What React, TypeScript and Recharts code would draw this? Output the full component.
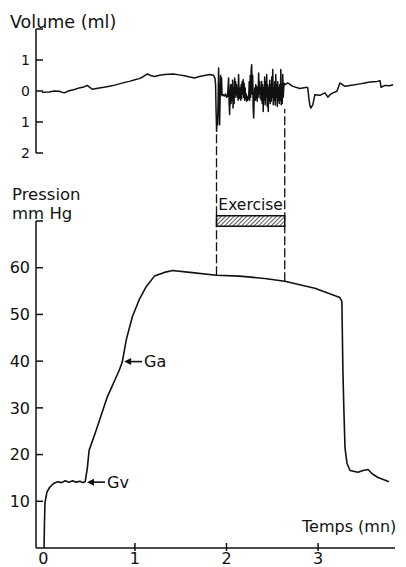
import {
  Line,
  LineChart,
  ReferenceArea,
  ReferenceDot,
  ReferenceLine,
  XAxis,
  YAxis,
} from 'recharts';

// [time (mn), volume (ml)]
const volumeTrace: [number, number][] = [
  [-0.014, -0.04], [0.062, -0.03], [0.12, 0.0], [0.172, -0.01], [0.227, -0.06], [0.282, 0.01],
  [0.34, 0.05], [0.391, 0.1], [0.44, 0.13], [0.479, 0.18], [0.533, 0.06], [0.61, 0.1],
  [0.66, 0.12], [0.72, 0.15], [0.78, 0.19], [0.829, 0.23], [0.88, 0.27], [0.939, 0.31],
  [1.0, 0.36], [1.048, 0.4], [1.09, 0.46], [1.136, 0.55], [1.18, 0.49], [1.213, 0.47],
  [1.27, 0.51], [1.322, 0.53], [1.421, 0.55], [1.48, 0.52], [1.541, 0.49], [1.6, 0.45],
  [1.651, 0.42], [1.705, 0.47], [1.76, 0.5], [1.815, 0.53], [1.859, 0.51], [1.875, 0.4],
  [1.881, 0.2],
  // exercise
  [1.886, -0.6], [1.892, -1.3], [1.898, -0.9], [1.903, -1.1], [1.909, -0.2], [1.914, 0.74],
  [1.92, -0.5], [1.925, -1.09], [1.93, -0.3], [1.936, 0.5], [1.941, -0.1], [1.946, 0.42],
  [1.952, -0.15], [1.957, -0.12], [1.963, -0.14], [1.968, -0.12], [1.979, -0.16], [1.99, -0.1],
  [2.001, -0.2], [2.012, -0.17], [2.017, 0.1], [2.023, 0.42], [2.028, -0.3], [2.034, -0.76],
  [2.039, -0.2], [2.045, 0.2], [2.05, -0.4], [2.056, 0.2], [2.061, -0.3], [2.067, 0.35],
  [2.072, -0.55], [2.078, 0.1], [2.083, -0.4], [2.089, 0.42], [2.094, -0.2], [2.1, 0.3],
  [2.105, -0.12], [2.111, 0.2], [2.116, -0.2], [2.122, 0.1], [2.127, -0.3], [2.132, 0.53],
  [2.138, -0.1], [2.143, -0.23], [2.149, 0.1], [2.154, -0.3], [2.16, 0.2], [2.165, -0.25],
  [2.171, 0.3], [2.176, -0.1], [2.182, 0.37], [2.187, -0.2], [2.193, 0.25], [2.198, -0.3],
  [2.204, 0.1], [2.209, -0.25], [2.215, -0.1], [2.22, -0.33], [2.226, -0.2], [2.231, -0.3],
  [2.237, -0.15], [2.242, -0.25], [2.248, 0.3], [2.253, -0.3], [2.259, 0.5], [2.264, -0.2],
  [2.27, 0.7], [2.275, 0.85], [2.281, -0.1], [2.286, 0.5], [2.292, -0.6], [2.297, -0.87],
  [2.303, -0.2], [2.308, 0.1], [2.314, -0.3], [2.319, 0.2], [2.324, -0.25], [2.329, 0.15],
  [2.335, -0.33], [2.34, 0.1], [2.346, -0.2], [2.351, 0.58], [2.357, -0.1], [2.362, 0.3],
  [2.368, -0.23], [2.373, 0.1], [2.379, -0.3], [2.384, 0.31], [2.39, -0.4], [2.395, 0.2],
  [2.401, -0.66], [2.406, 0.1], [2.412, -0.3], [2.417, 0.45], [2.423, -0.44], [2.428, 0.3],
  [2.434, -0.2], [2.439, 0.53], [2.445, -0.5], [2.45, 0.2], [2.456, -0.66], [2.461, 0.1],
  [2.467, -0.3], [2.472, 0.35], [2.478, -0.4], [2.483, 0.2], [2.489, -0.33], [2.494, 0.45],
  [2.5, -0.2], [2.505, 0.69], [2.511, -0.44], [2.516, 0.1], [2.522, -0.3], [2.527, 0.3],
  [2.533, -0.45], [2.538, 0.53], [2.544, -0.2], [2.549, 0.2], [2.555, -0.5], [2.56, 0.3],
  [2.566, -0.3], [2.571, 0.1], [2.577, -0.4], [2.582, 0.2], [2.588, -0.3], [2.593, 0.69],
  [2.598, -0.44], [2.604, 0.1], [2.609, -0.4], [2.614, 0.53], [2.62, -0.2], [2.625, 0.1],
  [2.63, 0.25], [2.636, 0.2],
  // recovery
  [2.669, 0.26], [2.724, 0.15], [2.801, 0.08], [2.877, 0.12], [2.888, 0.1], [2.899, -0.23],
  [2.91, -0.45], [2.921, -0.55], [2.943, -0.44], [2.965, -0.12], [3.02, -0.14], [3.075, -0.06],
  [3.107, -0.2], [3.13, -0.12], [3.162, -0.06], [3.206, -0.01], [3.238, 0.26], [3.293, 0.15],
  [3.348, 0.18], [3.4, 0.2], [3.458, 0.23], [3.51, 0.26], [3.567, 0.29], [3.644, 0.31],
  [3.677, 0.33], [3.688, 0.12], [3.731, 0.18], [3.78, 0.17], [3.819, 0.2],
];

// [time (mn), pressure (mmHg)]
const pressureTrace: [number, number][] = [
  [0.008, 0], [0.012, 5], [0.018, 9.7], [0.04, 12.0], [0.07, 13.0], [0.095, 13.5],
  [0.12, 13.9], [0.16, 14.2], [0.2, 14.0], [0.24, 14.4], [0.28, 14.1], [0.32, 14.4],
  [0.36, 14.1], [0.4, 14.3], [0.43, 14.0], [0.457, 14.2], [0.48, 17.0], [0.5, 20.9],
  [0.577, 25.2], [0.698, 32.3], [0.83, 38.1], [0.862, 39.8], [0.906, 44.6], [0.972, 49.5],
  [1.048, 53.2], [1.125, 56.0], [1.213, 58.2], [1.322, 59.0], [1.41, 59.4], [1.6, 59.0],
  [1.891, 58.4], [2.143, 58.2], [2.417, 57.7], [2.636, 57.1], [2.965, 55.6], [3.238, 53.6],
  [3.26, 52.8], [3.271, 38.1], [3.282, 29.5], [3.294, 21.5], [3.316, 18.1], [3.349, 16.6],
  [3.436, 16.2], [3.491, 16.6], [3.546, 16.8], [3.59, 15.9], [3.655, 15.1], [3.775, 14.2],
];

const volumeTicks = [2, 1, 0, -1, -2];
const pressureTicks = [10, 20, 30, 40, 50, 60, 70];
const timeTicks = [0, 1, 2, 3];

// exercise period (mn) and the bar drawn above the pressure trace (mmHg)
const exercise = { start: 1.891, end: 2.636 };
const exerciseBar = [68.9, 71.1];

// arrow notes on the pressure trace: [time, pressure, text]
const notes: [number, number, string][] = [
  [0.466, 14.1, 'Gv'],
  [0.871, 39.9, 'Ga'],
];

const INK = '#111';
const FONT = "'DejaVu Sans', sans-serif";
const TIME_DOMAIN: [number, number] = [-0.08, 3.84];

const volumeData = volumeTrace.map(([t, v]) => ({ t, v }));
const pressureData = pressureTrace.map(([t, p]) => ({ t, p }));
const pressureAt = (t: number) => pressureTrace.find((d) => d.at(0) === t)?.[1] ?? 0;

// ticks sit inside the axis; the top value only gets a cap, no label
function LeftTick(props: any) {
  const { x, y, payload, cap, fontSize } = props;
  const ax = x + 5;
  return (
    <g>
      <line x1={ax} x2={ax + 7} y1={y} y2={y} stroke={INK} strokeWidth={1.5} />
      {payload.value !== cap && (
        <text x={x - 1} y={y} dy="0.36em" textAnchor="end" fontSize={fontSize} fontFamily={FONT} fill={INK}>
          {Math.abs(payload.value)}
        </text>
      )}
    </g>
  );
}

function TimeTick(props: any) {
  const { x, y, payload } = props;
  const ay = y - 2;
  return (
    <g>
      {payload.value !== 0 && <line x1={x} x2={x} y1={ay - 5} y2={ay + 3} stroke={INK} strokeWidth={1.5} />}
      <text x={x} y={ay + 16} textAnchor="middle" fontSize={16} fontFamily={FONT} fill={INK}>
        {payload.value}
      </text>
    </g>
  );
}

function ArrowNote({ cx, cy, text }: { cx: number; cy: number; text: string }) {
  return (
    <g>
      <path d={`M${cx + 1},${cy} L${cx + 8},${cy - 3.5} L${cx + 8},${cy + 3.5} Z`} fill={INK} />
      <line x1={cx + 6} x2={cx + 19} y1={cy} y2={cy} stroke={INK} strokeWidth={1.6} />
      <text x={cx + 21} y={cy + 5.5} fontSize={16} fontFamily={FONT} fill={INK}>
        {text}
      </text>
    </g>
  );
}

export default function App() {
  return (
    <div style={{ position: 'absolute', left: 0, top: 0, width: 406, height: 567, background: '#fff' }}>
      <LineChart
        width={406}
        height={567}
        data={pressureData}
        margin={{ top: 221, right: 11, bottom: 0, left: 6 }}
      >
        <defs>
          <pattern id="hatch" width="3" height="3" patternUnits="userSpaceOnUse" patternTransform="rotate(45)">
            <line x1="0" y1="0" x2="0" y2="3" stroke={INK} strokeWidth={1.4} />
          </pattern>
        </defs>
        <text x={12} y={200} fontSize={16.5} fontFamily={FONT} fill={INK}>Pression</text>
        <text x={12} y={219} fontSize={16.5} fontFamily={FONT} fill={INK}>mm Hg</text>
        <text x={302} y={532} fontSize={16} fontFamily={FONT} fill={INK}>Temps (mn)</text>
        <XAxis
          type="number"
          dataKey="t"
          domain={TIME_DOMAIN}
          ticks={timeTicks}
          interval={0}
          height={19}
          tickSize={0}
          tickMargin={2}
          tickLine={false}
          axisLine={{ stroke: INK, strokeWidth: 1.5 }}
          tick={(p: any) => <TimeTick {...p} />}
        />
        <YAxis
          type="number"
          domain={[0, 70]}
          ticks={pressureTicks}
          interval={0}
          width={30}
          tickSize={0}
          tickMargin={5}
          tickLine={false}
          axisLine={{ stroke: INK, strokeWidth: 1.5 }}
          tick={(p: any) => <LeftTick {...p} cap={70} fontSize={16} />}
        />
        {/* dashed guides run from the pressure trace up into the volume panel */}
        <ReferenceLine
          segment={[{ x: exercise.start, y: pressureAt(exercise.start) }, { x: exercise.start, y: 89.5 }]}
          stroke={INK}
          strokeWidth={1.3}
          strokeDasharray="9 3"
          ifOverflow="visible"
        />
        <ReferenceLine
          segment={[{ x: exercise.end, y: pressureAt(exercise.end) }, { x: exercise.end, y: 94 }]}
          stroke={INK}
          strokeWidth={1.3}
          strokeDasharray="9 3"
          ifOverflow="visible"
        />
        <ReferenceArea
          x1={exercise.start}
          x2={exercise.end}
          y1={exerciseBar[0]}
          y2={exerciseBar[1]}
          fill="url(#hatch)"
          fillOpacity={1}
          stroke={INK}
          strokeWidth={1.5}
          ifOverflow="visible"
          label={{ value: 'Exercise', position: 'top', offset: 6, fill: INK, fontSize: 15.5, fontFamily: FONT }}
        />
        <Line
          type="linear"
          dataKey="p"
          stroke={INK}
          strokeWidth={1.6}
          strokeLinejoin="round"
          dot={false}
          isAnimationActive={false}
        />
        {notes.map(([t, p, text]) => (
          <ReferenceDot
            key={text}
            x={t}
            y={p}
            r={0}
            shape={(d: any) => <ArrowNote cx={d.cx} cy={d.cy} text={text} />}
          />
        ))}
      </LineChart>

      <div style={{ position: 'absolute', left: 0, top: 0 }}>
        <LineChart
          width={406}
          height={170}
          data={volumeData}
          margin={{ top: 29, right: 11, bottom: 17, left: 6 }}
        >
          <text x={10} y={28} fontSize={17.5} fontFamily={FONT} fill={INK}>Volume (ml)</text>
          <XAxis type="number" dataKey="t" domain={TIME_DOMAIN} hide />
          <YAxis
            type="number"
            domain={[-2, 2]}
            ticks={volumeTicks}
            interval={0}
            width={30}
            tickSize={0}
            tickMargin={5}
            tickLine={false}
            axisLine={{ stroke: INK, strokeWidth: 1.5 }}
            tick={(p: any) => <LeftTick {...p} cap={2} fontSize={14} />}
          />
          <Line
            type="linear"
            dataKey="v"
            stroke={INK}
            strokeWidth={1.5}
            strokeLinejoin="round"
            dot={false}
            isAnimationActive={false}
          />
        </LineChart>
      </div>
    </div>
  );
}
